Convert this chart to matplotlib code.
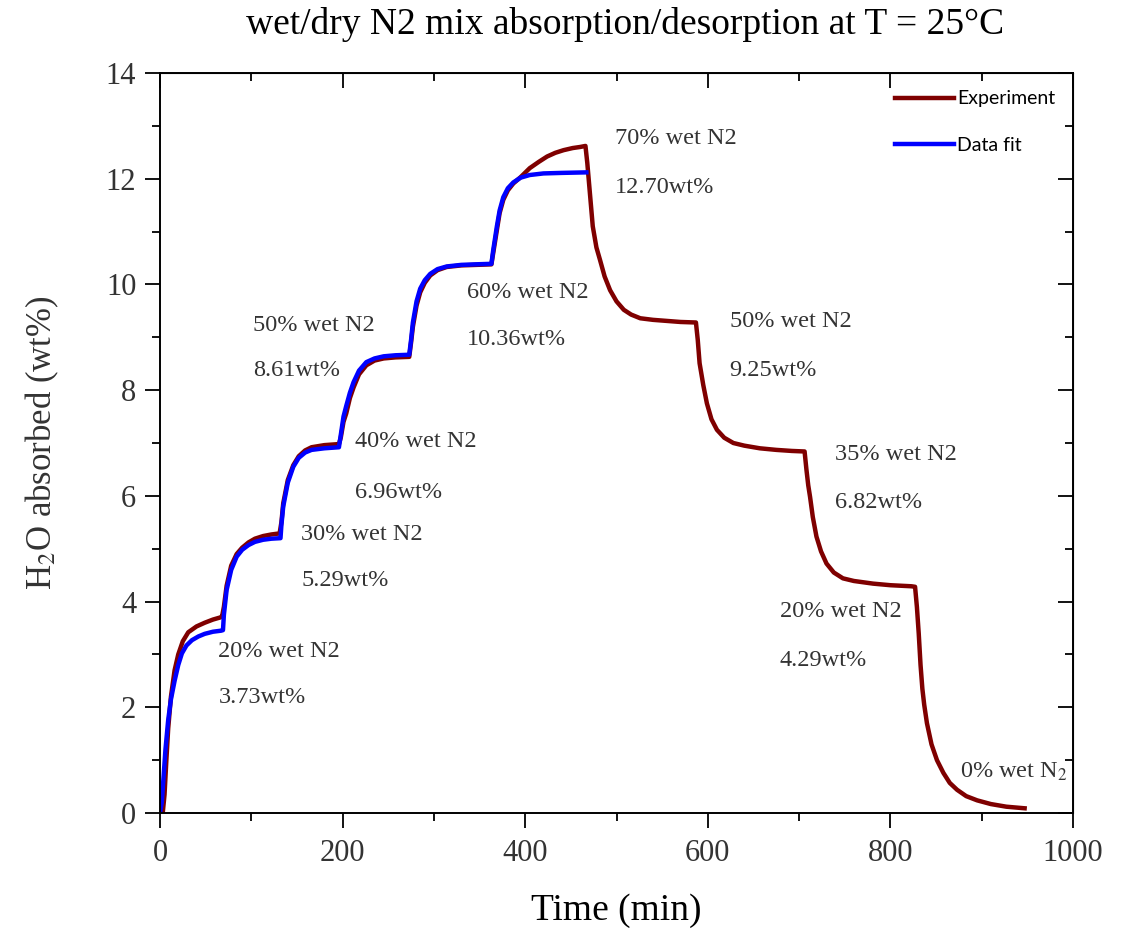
import matplotlib
matplotlib.use("Agg")
import matplotlib.pyplot as plt

plt.rcParams['font.family'] = ['Liberation Serif', 'DejaVu Serif']
plt.rcParams['mathtext.fontset'] = 'stix'

# experiment: absorption steps, then desorption steps (time in min, wt%)
exp_t = [3, 5, 7, 9, 12, 16, 20, 25, 31, 40, 49, 58, 66, 68,
         70, 73, 78, 84, 90, 97, 104, 113, 122, 131,
         133, 135, 140, 146, 152, 159, 166, 180, 196,
         198, 201, 204, 208, 212, 218, 226, 235, 245, 258, 273,
         275, 277, 281, 285, 290, 296, 304, 314, 330, 345, 363,
         365, 369, 372, 376, 381, 387, 395, 405, 415, 424, 433, 442, 452, 460, 466,
         468, 471, 474, 478, 482, 487, 493, 500, 508, 516, 526, 540, 555, 570, 587,
         589, 591, 595, 599, 604, 610, 618, 628, 640, 657, 675, 692, 706,
         708, 710, 712, 715, 719, 724, 730, 738, 748, 760, 781, 800, 823, 827,
         829, 831, 833, 835, 837, 840, 845, 851, 858, 865, 873, 883, 895, 910, 927, 947]
exp_y = [0.0, 0.35, 1.0, 1.6, 2.2, 2.7, 3.0, 3.25, 3.42, 3.53, 3.6, 3.66, 3.7, 3.72,
         3.9, 4.3, 4.68, 4.9, 5.02, 5.12, 5.19, 5.24, 5.27, 5.29,
         5.5, 5.86, 6.3, 6.58, 6.75, 6.86, 6.92, 6.96, 6.98,
         7.1, 7.4, 7.56, 7.85, 8.05, 8.3, 8.47, 8.56, 8.6, 8.62, 8.63,
         8.9, 9.2, 9.6, 9.85, 10.03, 10.17, 10.27, 10.33, 10.36, 10.37, 10.38,
         10.6, 11.03, 11.35, 11.6, 11.78, 11.91, 12.03, 12.2, 12.32, 12.42, 12.49, 12.54, 12.58, 12.6, 12.62,
         12.3, 11.7, 11.1, 10.7, 10.46, 10.15, 9.89, 9.68, 9.52, 9.43, 9.36, 9.33, 9.31, 9.29, 9.28,
         8.95, 8.51, 8.1, 7.75, 7.45, 7.25, 7.1, 7.0, 6.95, 6.9, 6.87, 6.85, 6.84,
         6.5, 6.2, 5.98, 5.6, 5.23, 4.95, 4.72, 4.55, 4.44, 4.39, 4.34, 4.31, 4.29, 4.28,
         3.9, 3.4, 2.8, 2.35, 2.05, 1.7, 1.3, 1.0, 0.76, 0.57, 0.44, 0.32, 0.24, 0.17, 0.12, 0.09]

# data fit: absorption part only
fit_t = [0, 2, 4, 6, 9, 12, 16, 20, 24, 29, 35, 42, 49, 58, 67, 69,
         70, 73, 78, 84, 90, 97, 104, 113, 122, 132,
         133, 135, 140, 146, 152, 159, 166, 180, 196,
         198, 201, 204, 208, 212, 218, 226, 235, 245, 258, 273,
         275, 277, 281, 285, 290, 296, 304, 314, 330, 345, 363,
         365, 369, 372, 376, 381, 387, 395, 405, 420, 440, 467]
fit_y = [0.0, 0.2, 0.7, 1.2, 1.76, 2.15, 2.5, 2.8, 3.02, 3.17, 3.27, 3.34, 3.39, 3.43, 3.45, 3.46,
         3.75, 4.22, 4.6, 4.85, 4.98, 5.07, 5.13, 5.17, 5.19, 5.2,
         5.45, 5.8, 6.25, 6.55, 6.72, 6.82, 6.87, 6.9, 6.92,
         7.15, 7.5, 7.7, 7.95, 8.15, 8.37, 8.53, 8.6, 8.64, 8.66, 8.67,
         8.95, 9.28, 9.68, 9.92, 10.08, 10.2, 10.29, 10.34, 10.37, 10.38, 10.39,
         10.65, 11.1, 11.4, 11.65, 11.82, 11.93, 12.02, 12.07, 12.1, 12.11, 12.12]

# step annotations: (x, y, text)
labels = [
    (64, 3.05, "20% wet N2"), (64, 2.19, "3.73wt%"),
    (155, 5.26, "30% wet N2"), (155, 4.39, "5.29wt%"),
    (214, 7.02, "40% wet N2"), (214, 6.07, "6.96wt%"),
    (102, 9.23, "50% wet N2"), (102, 8.38, "8.61wt%"),
    (336, 9.84, "60% wet N2"), (336, 8.95, "10.36wt%"),
    (498, 12.77, "70% wet N2"), (498, 11.84, "12.70wt%"),
    (624, 9.29, "50% wet N2"), (624, 8.38, "9.25wt%"),
    (739, 6.79, "35% wet N2"), (739, 5.88, "6.82wt%"),
    (679, 3.82, "20% wet N2"), (679, 2.89, "4.29wt%"),
    (876, 0.78, "0% wet N$_2$"),
]

fig = plt.figure(figsize=(11.25, 9.31), dpi=100)
ax = fig.add_axes([0.1422, 0.1267, 0.8116, 0.7949])

ax.plot(exp_t, exp_y, color='#7f0000', linewidth=3.2, label='Experiment',
        solid_joinstyle='round')
ax.plot(fit_t, fit_y, color='#0000ff', linewidth=3.2, label='Data fit',
        solid_joinstyle='round')

for x, y, s in labels:
    ax.text(x, y, s, fontsize=17.5, color='#333333', va='center', ha='left')

ax.set_xlim(0, 1000)
ax.set_ylim(0, 14)
ax.set_xticks(range(0, 1001, 200))
ax.set_xticks(range(100, 1000, 200), minor=True)
ax.set_yticks(range(0, 15, 2))
ax.set_yticks(range(1, 14, 2), minor=True)
ax.tick_params(which='both', direction='out', width=1.3, labelsize=22,
               labelcolor='#333333', top=False, right=False)
ax.tick_params(which='major', length=11)
ax.tick_params(which='minor', length=6)
ax.tick_params(axis='x', pad=8)
ax.tick_params(axis='y', pad=6)
for sp in ax.spines.values():
    sp.set_linewidth(1.4)

# inward ticks on top and right
top = ax.secondary_xaxis('top')
top.set_xticks(range(0, 1001, 200))
top.set_xticks(range(100, 1000, 200), minor=True)
top.tick_params(which='both', direction='in', width=1.3, labeltop=False)
top.tick_params(which='major', length=11)
top.tick_params(which='minor', length=6)
right = ax.secondary_yaxis('right')
right.set_yticks(range(0, 15, 2))
right.set_yticks(range(1, 14, 2), minor=True)
right.tick_params(which='both', direction='in', width=1.3, labelright=False)
right.tick_params(which='major', length=11)
right.tick_params(which='minor', length=6)

ax.set_xlabel("Time (min)", fontsize=27, labelpad=18)
ax.set_ylabel("H$_2$O absorbed (wt%)", fontsize=25, color='#333333', labelpad=32)
fig.text(0.556, 1 - 25 / 931, "wet/dry N2 mix absorption/desorption at T = 25\u00b0C",
         fontsize=27, ha='center', va='center')

ax.legend(loc='upper right', frameon=False, prop={'family': 'Lato', 'size': 14},
          handlelength=3.0, handletextpad=0.2, labelspacing=1.5,
          bbox_to_anchor=(1.0, 1.0))

fig.savefig("out.png", dpi=100)
